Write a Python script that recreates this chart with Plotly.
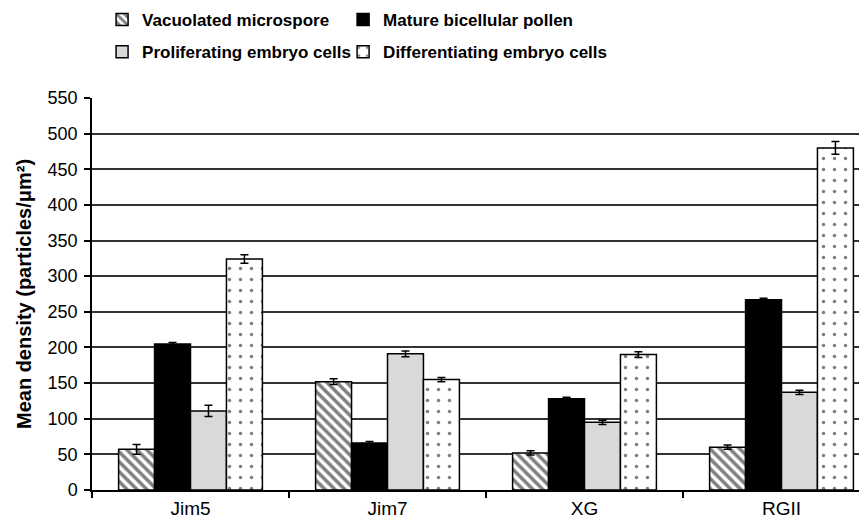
import plotly.graph_objects as go

categories = ["Jim5", "Jim7", "XG", "RGII"]
series_names = ["Vacuolated microspore", "Mature bicellular pollen",
                "Proliferating embryo cells", "Differentiating embryo cells"]
vacuolated = [57, 152, 52, 60]
vacuolated_err = [7, 4, 3, 3]
mature = [205, 66, 128, 267]
mature_err = [2, 2, 2, 2]
proliferating = [111, 191, 95, 137]
proliferating_err = [8, 4, 3, 3]
differentiating = [324, 155, 190, 480]
differentiating_err = [6, 3, 4, 9]
y_ticks = list(range(0, 551, 50))

FONT = "Liberation Sans, Arial, sans-serif"

styles = [
    dict(color="white", pattern=dict(shape="\\", fgcolor="black", bgcolor="white", size=7, solidity=0.5)),
    dict(color="black"),
    dict(color="#d9d9d9"),
    dict(color="white", pattern=dict(shape=".", fgcolor="black", bgcolor="white", size=11, solidity=0.08)),
]
values = [vacuolated, mature, proliferating, differentiating]
errors = [vacuolated_err, mature_err, proliferating_err, differentiating_err]
legends = ["legend", "legend2", "legend3", "legend4"]

fig = go.Figure()
for name, v, e, st, lg in zip(series_names, values, errors, styles, legends):
    fig.add_trace(go.Bar(
        x=categories, y=v, name=name, legend=lg,
        marker=dict(line=dict(color="black", width=1.5), **st),
        error_y=dict(type="data", array=e, color="black", thickness=1.5, width=4),
    ))

legend_common = dict(
    orientation="h", xanchor="left", yanchor="middle", xref="paper", yref="paper",
    font=dict(family=FONT, size=17, color="black", weight="bold"),
    itemwidth=30, bgcolor="rgba(0,0,0,0)",
)

fig.update_layout(
    width=859, height=516,
    margin=dict(l=84, r=0, t=90, b=34, autoexpand=False),
    paper_bgcolor="white", plot_bgcolor="white",
    barmode="group", bargap=0.27, bargroupgap=0,
    showlegend=True,
    legend=dict(x=0.013, y=1.199, **legend_common),
    legend2=dict(x=0.324, y=1.199, **legend_common),
    legend3=dict(x=0.013, y=1.117, **legend_common),
    legend4=dict(x=0.324, y=1.117, **legend_common),
    font=dict(family=FONT, color="black"),
    xaxis=dict(
        range=[-0.5, 3.434], tickson="boundaries", ticks="outside", ticklen=6,
        tickcolor="black", tickwidth=1.5,
        showline=True, linecolor="black", linewidth=1.5, showgrid=False,
        tickfont=dict(family=FONT, size=19, color="black"),
        automargin=False,
    ),
    yaxis=dict(
        range=[0, 550], tickvals=y_ticks, ticks="outside", ticklen=6,
        tickcolor="black", tickwidth=1.5,
        showline=True, linecolor="black", linewidth=1.5,
        showgrid=True, gridcolor="#333333", gridwidth=1.5,
        zeroline=False, automargin=False,
        tickfont=dict(family=FONT, size=18, color="black"),
        ticklabelstandoff=3,
        title=dict(text="Mean density (particles/μm²)",
                   font=dict(family=FONT, size=20, color="black", weight="bold"),
                   standoff=11),
    ),
)

fig.write_html("out.html")
